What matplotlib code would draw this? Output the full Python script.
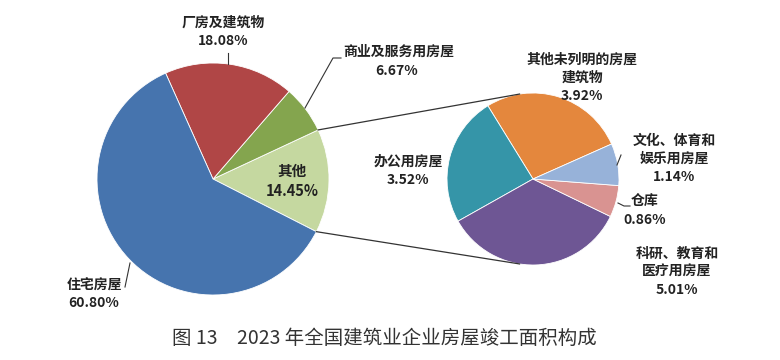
import matplotlib.pyplot as plt
import numpy as np

plt.rcParams['font.family'] = ['Noto Sans CJK SC', 'DejaVu Sans']

# main pie (counterclockwise from the "other" wedge)
main_labels = ["其他", "商业及服务用房屋", "厂房及建筑物", "住宅房屋"]
main_values = [14.45, 6.67, 18.08, 60.80]
main_colors = ["#C5D8A0", "#84A54E", "#B04646", "#4674AE"]

# breakdown of "other"
sub_labels = ["其他未列明的房屋\n建筑物", "办公用房屋", "科研、教育和\n医疗用房屋", "仓库", "文化、体育和\n娱乐用房屋"]
sub_values = [3.92, 3.52, 5.01, 0.86, 1.14]
sub_colors = ["#E4873D", "#3595A8", "#6E5694", "#D99391", "#97B2D9"]

title = "图 13　2023 年全国建筑业企业房屋竣工面积构成"

W, H = 780, 360
fig = plt.figure(figsize=(W / 100, H / 100), dpi=100)
ax = fig.add_axes([0, 0, 1, 1])

main_c, main_r = (213, H - 179), 116
sub_c, sub_r = (533, H - 179), 86

wp = dict(edgecolor='white', linewidth=0.6)
w_main, _ = ax.pie(main_values, colors=main_colors, startangle=-27, counterclock=True,
                   center=main_c, radius=main_r, wedgeprops=wp, frame=True)
w_sub, _ = ax.pie(sub_values, colors=sub_colors, startangle=24, counterclock=True,
                  center=sub_c, radius=sub_r, wedgeprops=wp, frame=True)
ax.set_xlim(0, W)
ax.set_ylim(0, H)
ax.set_aspect('equal')
ax.axis('off')


def on_circle(c, r, deg):
    a = np.deg2rad(deg)
    return (c[0] + r * np.cos(a), c[1] + r * np.sin(a))


# connector lines between "other" wedge and breakdown pie
other = w_main[0]
for a_main, a_sub in [(other.theta2, 99), (other.theta1, 261)]:
    p1 = on_circle(main_c, main_r, a_main)
    p2 = on_circle(sub_c, sub_r, a_sub)
    ax.plot([p1[0], p2[0]], [p1[1], p2[1]], color='#333333', lw=0.9)

lab = dict(fontsize=10, fontweight='bold', color='#222222', ha='center', va='center', linespacing=1.35)
lc = dict(color='#333333', lw=0.8)


def pct(v):
    return f"{v:.2f}%"


# main pie labels
ax.text(223, H - 32, main_labels[2] + "\n" + pct(main_values[2]), **lab)
ax.plot([228, 228], [H - 53, H - 64], **lc)

ax.text(343, H - 52, main_labels[1], **{**lab, 'ha': 'left'})
ax.text(397, H - 71, pct(main_values[1]), **lab)
ax.plot([341, 333, 305], [H - 58, H - 58, H - 108], **lc)

ax.text(292, H - 181, main_labels[0] + "\n" + pct(main_values[0]), **{**lab, 'fontsize': 10.5})

ax.text(94, H - 294, main_labels[3] + "\n" + pct(main_values[3]), **lab)
ax.plot([125, 130], [H - 287, H - 263], **lc)

# breakdown labels
ax.text(582, H - 78, sub_labels[0] + "\n" + pct(sub_values[0]), **lab)
ax.text(408, H - 171, sub_labels[1] + "\n" + pct(sub_values[1]), **lab)
ax.text(677, H - 272, sub_labels[2] + "\n" + pct(sub_values[2]), **lab)
ax.text(645, H - 211, sub_labels[3] + "\n" + pct(sub_values[3]), **lab)
ax.plot([618, 624, 630], [H - 203, H - 206, H - 206], **lc)
ax.text(674, H - 159, sub_labels[4] + "\n" + pct(sub_values[4]), **lab)
ax.plot([621, 617], [H - 155, H - 165], **lc)

ax.text(384, H - 338, title, fontsize=14, color='#333333', ha='center', va='center')

fig.savefig("out.png", dpi=100, facecolor='white')
